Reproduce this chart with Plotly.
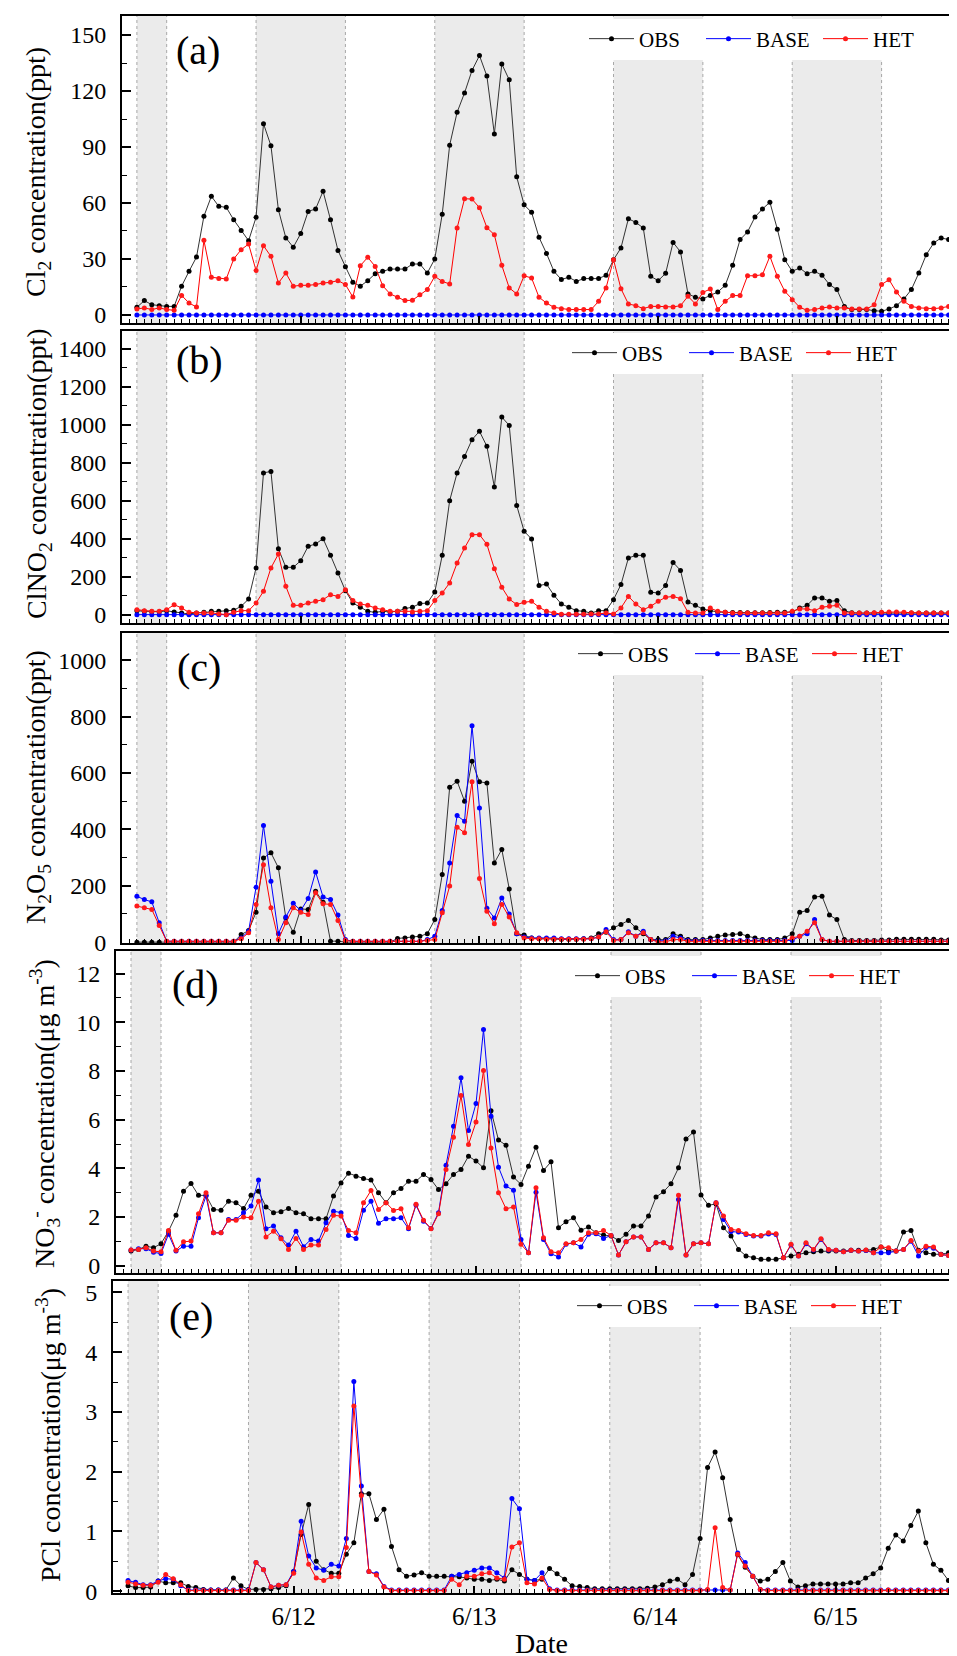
import plotly.graph_objects as go

# Hours since 6/11 00:00 (hourly data from 02:00 on 6/11 to 17:00 on 6/15)
HOURS = list(range(2, 114))
DAY_TICKS = [24, 48, 72, 96]
DAY_LABELS = ["6/12", "6/13", "6/14", "6/15"]
NIGHT_START = [2, 18, 42, 66, 90]
NIGHT_END = [6, 30, 54, 78, 102]

# ---------------- (a) Cl2 (ppt) ----------------
CL2_OBS = [4.1, 7.7, 5.5, 5, 4.6, 4.6, 15.4, 23.4, 31, 52.9,
           63.6, 58.2, 57.7, 51, 45.2, 39.8, 52.3, 102.5, 90.7, 56.4,
           41.3, 36.3, 43.6, 55.5, 56.8, 66.3, 51, 34.6, 25.9, 17.5,
           15.4, 18.4, 22.1, 23.4, 24.6, 24.6, 24.6, 27.3, 27.3, 22.5,
           30, 54, 91, 108.6, 119, 131, 139, 128, 97, 134.5,
           126, 74, 59, 55, 41.6, 33, 23.4, 19, 20.2, 18,
           19.5, 19.5, 19.5, 21.3, 29.6, 35.9, 51.6, 49.6, 46.6, 20.7,
           18.4, 22.3, 38.9, 33.8, 11.3, 9.5, 8.6, 10.5, 12.3, 15.9,
           26.6, 40.4, 44.5, 52.5, 56.8, 60.4, 46, 29.6, 23.4, 25.2,
           22.1, 23.4, 21.3, 16.3, 13.6, 4.6, 2.9, 2.9, 2.9, 2.3,
           2, 3.2, 5, 8.6, 13.6, 22.5, 32.3, 38.6, 41.3, 40.4,
           38.6, 36.3]
CL2_BASE = [0, 0, 0, 0, 0, 0, 0, 0, 0, 0,
            0, 0, 0, 0, 0, 0, 0, 0, 0, 0,
            0, 0, 0, 0, 0, 0, 0, 0, 0, 0,
            0, 0, 0, 0, 0, 0, 0, 0, 0, 0,
            0, 0, 0, 0, 0, 0, 0, 0, 0, 0,
            0, 0, 0, 0, 0, 0, 0, 0, 0, 0,
            0, 0, 0, 0, 0, 0, 0, 0, 0, 0,
            0, 0, 0, 0, 0, 0, 0, 0, 0, 0,
            0, 0, 0, 0, 0, 0, 0, 0, 0, 0,
            0, 0, 0, 0, 0, 0, 0, 0, 0, 0,
            0, 0, 0, 0, 0, 0, 0, 0, 0, 0,
            0, 0]
CL2_HET = [3.2, 3.8, 2.9, 3.8, 2.9, 2.5, 10.5, 6.4, 4.3, 40,
           20.2, 19.6, 19.3, 30, 35, 38, 23.8, 37.1, 31.4, 17.1,
           22.5, 15.4, 15.9, 15.9, 16.3, 17.1, 17.5, 18.4, 16.3, 9.6,
           26.4, 30.9, 26, 15.7, 11.3, 9.5, 7.7, 7.9, 10.9, 13.6,
           20.7, 18, 16.6, 46.6, 62.3, 62.1, 57.5, 46.8, 43, 26.6,
           14.5, 11.3, 21, 19.8, 9.5, 6.4, 4.1, 3.4, 2.9, 2.9,
           2.9, 2.9, 7.3, 14.5, 29.6, 14.1, 5.9, 5, 3.4, 4.6,
           4.6, 4.3, 4.3, 5, 10, 5.9, 12.1, 13.9, 2.9, 7.3,
           10.4, 10.4, 21, 21, 21.6, 31.4, 20.7, 12.7, 8.2, 4.1,
           2.5, 2.9, 3.8, 4.3, 3.8, 3.8, 3.2, 3.2, 3.2, 5.5,
           16.3, 18.9, 12.3, 7.3, 4.6, 3.8, 3.4, 3.4, 3.8, 4.6,
           6.8, 12.1]

# ---------------- (b) ClNO2 (ppt) ----------------
CLNO2_OBS = [20, 18, 15, 15, 20, 14, 9, 3.5, 9, 12,
             17.5, 17.5, 21, 23, 44, 82, 246, 746, 754, 347,
             249, 249, 284, 360, 372, 400, 312, 219, 126, 61,
             39, 17.5, 12, 17.5, 14, 17.5, 32, 39, 58, 61,
             119, 312, 600, 746, 833, 921, 965, 886, 672, 1040,
             996, 575, 439, 398, 153, 161, 102, 56, 39, 21,
             17.5, 8, 21, 21, 79, 158, 298, 312, 312, 118,
             114, 153, 275, 233, 67, 49, 30, 21, 14, 12,
             11, 11, 10, 10, 10, 11, 12, 12, 14, 35,
             49, 88, 88, 70, 74, 21, 10, 8, 8, 8,
             8, 8, 8, 8, 8, 8, 8, 8, 8, 8,
             8, 8]
CLNO2_BASE = [0, 0, 0, 0, 0, 0, 0, 0, 0, 0,
              0, 0, 0, 0, 0, 0, 0, 0, 0, 0,
              0, 0, 0, 0, 0, 0, 0, 0, 0, 0,
              0, 0, 0, 0, 0, 0, 0, 0, 0, 0,
              0, 0, 0, 0, 0, 0, 0, 0, 0, 0,
              0, 0, 0, 0, 0, 0, 0, 0, 0, 0,
              0, 0, 0, 0, 0, 0, 0, 0, 0, 0,
              0, 0, 0, 0, 0, 0, 0, 0, 0, 0,
              0, 0, 0, 0, 0, 0, 0, 0, 0, 0,
              0, 0, 0, 0, 0, 0, 0, 0, 0, 0,
              0, 0, 0, 0, 0, 0, 0, 0, 0, 0,
              0, 0]
CLNO2_HET = [26, 21, 17.5, 17.5, 26, 52.6, 35, 12, 9, 9,
             9, 3.5, 0, 12, 21, 21, 61, 123, 246, 319,
             149, 49, 49, 61, 70, 79, 105, 96, 131, 74,
             56, 49, 35, 26, 17.5, 17.5, 17.5, 14, 17.5, 21,
             74, 114, 167, 272, 351, 421, 421, 370, 242, 144,
             82, 53, 65, 70, 39, 17.5, 9, 2, 2, 2,
             2, 3.5, 3.5, 9, 3.5, 35, 96, 56, 26, 44,
             70, 91, 96, 84, 12, 9, 9, 35, 17.5, 12,
             9, 8, 8, 8, 8, 8, 8, 8, 17.5, 30,
             30, 21, 39, 44, 49, 9, 8, 8, 8, 10,
             12, 14, 14, 12, 10, 9, 8, 8, 8, 8,
             8, 8]

# ---------------- (c) N2O5 (ppt) ----------------
N2O5_OBS = [0, 0, 0, 0, 0, 0, 0, 0, 0, 0,
            0, 0, 0, 0, 27, 41, 106, 299, 317, 264,
            86, 35, 118, 116, 181, 142, 3.5, 3.5, 0, 0,
            0, 0, 0, 0, 0, 13, 15, 18, 21, 30,
            80, 240, 550, 571, 500, 642, 569, 565, 281, 329,
            189, 30, 25, 15, 12, 12, 10, 10, 10, 10,
            12, 15, 30, 35, 51, 63, 77, 51, 30, 9,
            9, 9, 30, 21, 9, 9, 9, 15, 21, 25,
            27, 30, 21, 15, 9, 9, 9, 15, 30, 106,
            112, 160, 163, 96, 80, 9, 6, 6, 6, 6,
            8, 8, 10, 10, 10, 10, 10, 10, 8, 8,
            8, 8]
N2O5_BASE = [163, 151, 143, 69, 3.5, 3, 3, 3, 3, 3,
             3, 3, 3, 3, 15, 39, 195, 414, 216, 30,
             89, 138, 112, 155, 249, 160, 151, 96, 9, 3,
             3, 3, 3, 3, 3, 3, 3, 3, 3, 9,
             21, 112, 281, 449, 429, 768, 476, 120, 86, 157,
             100, 30, 18, 15, 15, 15, 15, 12, 12, 12,
             12, 12, 18, 45, 9, 9, 37, 21, 39, 9,
             5, 5, 21, 15, 6, 6, 6, 6, 6, 6,
             6, 6, 6, 6, 6, 6, 6, 6, 6, 21,
             30, 80, 9, 3, 3, 3, 3, 3, 3, 3,
             3, 3, 3, 3, 3, 3, 3, 3, 3, 3,
             3, 3]
N2O5_HET = [128, 122, 116, 59, 3.5, 3, 3, 3, 3, 3,
            3, 3, 3, 3, 12, 33, 134, 275, 122, 9,
            69, 122, 106, 98, 175, 136, 134, 77, 6, 3,
            3, 3, 3, 3, 3, 3, 3, 3, 3, 6,
            9, 104, 199, 408, 388, 569, 226, 110, 65, 134,
            89, 33, 15, 12, 12, 10, 10, 10, 10, 10,
            10, 12, 18, 37, 6, 9, 33, 21, 33, 9,
            1, 1, 9, 9, 3, 3, 3, 3, 3, 3,
            3, 3, 3, 3, 3, 3, 3, 3, 15, 21,
            39, 69, 9, 3, 3, 3, 3, 3, 3, 3,
            3, 3, 3, 3, 3, 3, 3, 3, 3, 3,
            3, 3]

# ---------------- (d) NO3- (ug m-3) ----------------
NO3_OBS = [0.6, 0.67, 0.8, 0.74, 0.9, 1.42, 2.07, 3.06, 3.38, 2.89,
           2.89, 2.31, 2.28, 2.65, 2.59, 2.35, 2.89, 3.06, 2.41, 2.18,
           2.22, 2.35, 2.18, 2.13, 1.93, 1.93, 1.93, 2.86, 3.4, 3.8,
           3.68, 3.58, 3.52, 3.0, 2.59, 3.0, 3.17, 3.47, 3.47, 3.75,
           3.54, 3.13, 3.37, 3.75, 3.95, 4.5, 4.3, 4.02, 6.37, 5.16,
           4.95, 3.64, 3.34, 4.09, 4.87, 3.91, 4.27, 1.56, 1.81, 1.97,
           1.46, 1.59, 1.35, 1.26, 1.22, 1.04, 1.29, 1.63, 1.63, 2.04,
           2.82, 3.04, 3.37, 4.02, 5.21, 5.49, 2.9, 2.48, 2.54, 1.56,
           1.22, 0.67, 0.4, 0.33, 0.26, 0.26, 0.26, 0.33, 0.4, 0.47,
           0.53, 0.57, 0.6, 0.6, 0.6, 0.6, 0.63, 0.63, 0.63, 0.67,
           0.77, 0.6, 0.6, 1.38, 1.45, 0.63, 0.53, 0.47, 0.47, 0.53,
           0.97, 1.04]
NO3_BASE = [0.64, 0.7, 0.7, 0.55, 0.5, 1.29, 0.6, 0.8, 0.8, 1.97,
            2.86, 1.35, 1.35, 1.9, 1.9, 2.18, 2.45, 3.52, 1.52, 1.63,
            1.15, 0.85, 1.42, 0.78, 1.08, 1.01, 1.76, 2.24, 2.18, 1.24,
            1.12, 2.28, 2.65, 1.74, 1.93, 1.93, 1.97, 1.52, 2.49, 1.83,
            1.53, 2.18, 4.13, 5.73, 7.72, 5.55, 6.66, 9.7, 6.14, 4.05,
            3.27, 3.1, 1.08, 0.53, 3.02, 1.08, 0.49, 0.36, 0.88, 0.94,
            0.77, 1.29, 1.31, 1.12, 1.24, 0.44, 0.98, 1.18, 1.18, 0.67,
            0.94, 0.94, 0.74, 2.72, 0.44, 0.9, 0.94, 0.9, 2.59, 1.9,
            1.4, 1.38, 1.28, 1.22, 1.22, 1.3, 1.28, 0.33, 0.85, 0.4,
            0.9, 0.65, 1.08, 0.65, 0.63, 0.57, 0.63, 0.6, 0.62, 0.53,
            0.53, 0.53, 0.6, 0.67, 1.0, 0.4, 0.75, 0.72, 0.46, 0.42,
            0.6, 0.8]
NO3_HET = [0.64, 0.67, 0.74, 0.6, 0.57, 1.45, 0.63, 0.98, 1.01, 2.13,
           3.0, 1.35, 1.35, 1.87, 1.87, 2.0, 1.97, 2.65, 1.18, 1.42,
           1.11, 0.67, 1.12, 0.67, 0.85, 0.85, 1.49, 2.07, 2.04, 1.45,
           1.35, 2.59, 3.09, 2.31, 2.59, 2.27, 2.34, 1.56, 2.52, 1.87,
           1.52, 2.13, 3.95, 5.28, 6.99, 4.98, 5.9, 8.02, 4.84, 3.0,
           2.34, 2.41, 0.88, 0.53, 3.2, 1.15, 0.57, 0.53, 0.9, 0.94,
           1.08, 1.35, 1.35, 1.45, 1.24, 0.44, 0.98, 1.18, 1.18, 0.67,
           0.94, 0.94, 0.74, 2.89, 0.44, 0.9, 0.94, 0.9, 2.59, 2.04,
           1.49, 1.45, 1.31, 1.24, 1.24, 1.35, 1.31, 0.33, 0.88, 0.4,
           0.94, 0.67, 1.11, 0.67, 0.63, 0.57, 0.63, 0.6, 0.64, 0.53,
           0.77, 0.74, 0.6, 0.67, 1.04, 0.6, 0.8, 0.77, 0.46, 0.42,
           0.6, 0.8]

# ---------------- (e) PCl (ug m-3) ----------------
PCL_OBS = [0.09, 0.06, 0.06, 0.07, 0.17, 0.14, 0.14, 0.14, 0.08, 0.06,
           0.03, 0.02, 0.02, 0.02, 0.22, 0.09, 0.03, 0.03, 0.03, 0.04,
           0.06, 0.09, 0.33, 0.95, 1.45, 0.5, 0.36, 0.3, 0.3, 0.62,
           0.81, 1.63, 1.63, 1.2, 1.37, 0.75, 0.36, 0.25, 0.27, 0.31,
           0.25, 0.25, 0.25, 0.25, 0.24, 0.22, 0.2, 0.2, 0.18, 0.2,
           0.17, 0.36, 0.28, 0.2, 0.18, 0.2, 0.38, 0.29, 0.2, 0.09,
           0.08, 0.06, 0.04, 0.04, 0.04, 0.04, 0.04, 0.04, 0.04, 0.05,
           0.07, 0.11, 0.17, 0.2, 0.11, 0.28, 0.88, 2.07, 2.33, 1.9,
           1.2, 0.61, 0.4, 0.25, 0.17, 0.2, 0.33, 0.48, 0.17, 0.07,
           0.09, 0.12, 0.12, 0.12, 0.12, 0.12, 0.14, 0.14, 0.22, 0.29,
           0.39, 0.72, 0.94, 0.84, 1.1, 1.34, 0.81, 0.45, 0.35, 0.18,
           0.07, 0.07]
PCL_BASE = [0.18, 0.15, 0.11, 0.11, 0.17, 0.21, 0.2, 0.09, 0.02, 0.02,
            0.02, 0.02, 0.02, 0.02, 0.02, 0.02, 0.02, 0.48, 0.36, 0.07,
            0.1, 0.11, 0.33, 1.17, 0.59, 0.39, 0.35, 0.45, 0.42, 0.88,
            3.51, 1.76, 0.33, 0.29, 0.08, 0.02, 0.02, 0.02, 0.02, 0.02,
            0.02, 0.02, 0.02, 0.25, 0.28, 0.31, 0.35, 0.39, 0.39, 0.31,
            0.22, 1.55, 1.38, 0.2, 0.18, 0.31, 0.04, 0.02, 0.02, 0.02,
            0.02, 0.02, 0.02, 0.02, 0.02, 0.02, 0.02, 0.02, 0.02, 0.02,
            0.02, 0.02, 0.02, 0.02, 0.02, 0.02, 0.02, 0.02, 0.02, 0.02,
            0.02, 0.64, 0.48, 0.25, 0.03, 0.02, 0.02, 0.02, 0.02, 0.02,
            0.02, 0.02, 0.02, 0.02, 0.02, 0.02, 0.02, 0.02, 0.02, 0.02,
            0.02, 0.02, 0.02, 0.02, 0.02, 0.02, 0.02, 0.02, 0.02, 0.02,
            0.02, 0.02]
PCL_HET = [0.15, 0.12, 0.1, 0.1, 0.15, 0.28, 0.21, 0.11, 0.01, 0.01,
           0.01, 0.01, 0.01, 0.01, 0.01, 0.01, 0.01, 0.48, 0.36, 0.07,
           0.1, 0.11, 0.3, 0.99, 0.45, 0.22, 0.18, 0.24, 0.24, 0.73,
           3.1, 1.6, 0.33, 0.27, 0.07, 0.01, 0.01, 0.01, 0.01, 0.01,
           0.01, 0.01, 0.01, 0.2, 0.11, 0.25, 0.25, 0.29, 0.31, 0.22,
           0.2, 0.74, 0.81, 0.14, 0.12, 0.22, 0.03, 0.01, 0.01, 0.01,
           0.01, 0.01, 0.01, 0.01, 0.01, 0.01, 0.01, 0.01, 0.01, 0.01,
           0.01, 0.01, 0.01, 0.01, 0.01, 0.01, 0.01, 0.03, 1.06, 0.06,
           0.02, 0.62, 0.42, 0.25, 0.03, 0.01, 0.01, 0.01, 0.01, 0.01,
           0.01, 0.01, 0.01, 0.01, 0.01, 0.01, 0.01, 0.01, 0.01, 0.01,
           0.01, 0.02, 0.01, 0.01, 0.01, 0.01, 0.01, 0.01, 0.01, 0.01,
           0.01, 0.01]

SERIES_NAMES = ["OBS", "BASE", "HET"]

# ---------------- layout helpers ----------------
W, H = 957, 1656
FONT = "Liberation Serif"

PANELS = [
    dict(label="(a)", data=[CL2_OBS, CL2_BASE, CL2_HET],
         ytitle="Cl<sub>2</sub> concentration(ppt)",
         top=8, bottom=315, left=114, yr=[-4.3, 160.2], dtick=30, minor=15,
         title_xy=(29, 164), label_xy=(190, 42), leg_xy=(576, 31)),
    dict(label="(b)", data=[CLNO2_OBS, CLNO2_BASE, CLNO2_HET],
         ytitle="ClNO<sub>2</sub> concentration(ppt)",
         top=323, bottom=615, left=114, yr=[-44, 1493], dtick=200, minor=100,
         title_xy=(31, 466), label_xy=(191, 352), leg_xy=(559, 345)),
    dict(label="(c)", data=[N2O5_OBS, N2O5_BASE, N2O5_HET],
         ytitle="N<sub>2</sub>O<sub>5</sub> concentration(ppt)",
         top=625, bottom=935, left=114, yr=[-3, 1097], dtick=200, minor=100,
         title_xy=(29, 779), label_xy=(191, 659), leg_xy=(565, 646)),
    dict(label="(d)", data=[NO3_OBS, NO3_BASE, NO3_HET],
         ytitle="NO<sub>3</sub><sup>-</sup> concentration(μg m<sup>-3</sup>)",
         top=943, bottom=1265, left=108, yr=[-0.3, 12.93], dtick=2, minor=1,
         title_xy=(36, 1106), label_xy=(187, 977), leg_xy=(562, 968)),
    dict(label="(e)", data=[PCL_OBS, PCL_BASE, PCL_HET],
         ytitle="PCl concentration(μg m<sup>-3</sup>)",
         top=1273, bottom=1585, left=105, yr=[-0.03, 5.19], dtick=1, minor=0.5,
         title_xy=(40, 1427), label_xy=(183, 1308), leg_xy=(564, 1298)),
]

LINE_COLORS = ["#333333", "#0000FF", "#FF0000"]
MARKER_COLORS = ["#000000", "#0000FF", "#FF1A1A"]

fig = go.Figure()
layout = dict(
    width=W, height=H,
    margin=dict(l=0, r=0, t=0, b=0),
    paper_bgcolor="white", plot_bgcolor="rgba(0,0,0,0)",
    font=dict(family=FONT, color="black", size=22),
    showlegend=True,
    template="none",
)
shapes = []
annotations = []

for i, p in enumerate(PANELS):
    k = i + 1
    xname = "x" if k == 1 else f"x{k}"
    yname = "y" if k == 1 else f"y{k}"
    legname = "legend" if k == 1 else f"legend{k}"

    for s in range(3):
        fig.add_trace(go.Scatter(
            x=HOURS, y=p["data"][s], name=SERIES_NAMES[s],
            mode="lines+markers",
            line=dict(color=LINE_COLORS[s], width=1),
            marker=dict(color=MARKER_COLORS[s], size=5, symbol="circle"),
            xaxis=xname, yaxis=yname, legend=legname,
        ))

    ydom = [1 - p["bottom"] / H, 1 - p["top"] / H]
    xdom = [p["left"] / W, 1.0]
    is_last = (k == len(PANELS))

    layout["xaxis" if k == 1 else f"xaxis{k}"] = dict(
        domain=xdom, anchor=yname, range=[0, 113.2],
        tickmode="array", tickvals=DAY_TICKS, ticktext=DAY_LABELS,
        showticklabels=is_last,
        ticks="inside", ticklen=7, tickwidth=1.5, tickcolor="black",
        minor=dict(ticks="inside", ticklen=4, tickwidth=1, tickcolor="black",
                   tickmode="linear", tick0=0, dtick=1),
        showline=True, linewidth=2, linecolor="black", mirror=True,
        showgrid=False, zeroline=False, automargin=False,
        tickfont=dict(family=FONT, size=25, color="black"),
    )
    layout["yaxis" if k == 1 else f"yaxis{k}"] = dict(
        domain=ydom, anchor=xname, range=p["yr"],
        tickmode="linear", tick0=0, dtick=p["dtick"],
        ticks="inside", ticklen=9, tickwidth=1.5, tickcolor="black",
        minor=dict(ticks="inside", ticklen=5, tickwidth=1.2, tickcolor="black",
                   tickmode="linear", tick0=0, dtick=p["minor"]),
        showline=True, linewidth=2, linecolor="black", mirror=False,
        showgrid=False, zeroline=False, automargin=False,
        ticklabelstandoff=9,
        tickfont=dict(family=FONT, size=24, color="black"),
    )

    # night shading + dotted borders
    for ns, ne in zip(NIGHT_START, NIGHT_END):
        shapes.append(dict(type="rect", xref=xname, yref=f"{yname} domain",
                           x0=ns, x1=ne, y0=0, y1=1, fillcolor="#EBEBEB",
                           line=dict(width=0), layer="below"))
        for xv in (ns, ne):
            shapes.append(dict(type="line", xref=xname, yref=f"{yname} domain",
                               x0=xv, x1=xv, y0=0, y1=1, layer="below",
                               line=dict(color="#A8A8A8", width=1, dash="dot")))

    lx, ly = p["leg_xy"]
    layout[legname] = dict(
        orientation="h", x=lx / W, y=1 - ly / H, xanchor="left", yanchor="middle",
        bgcolor="white", borderwidth=0,
        font=dict(family=FONT, size=21, color="black"),
        entrywidth=57, entrywidthmode="pixels", itemwidth=45,
    )

    tx, ty = p["title_xy"]
    annotations.append(dict(text=p["ytitle"], xref="paper", yref="paper",
                            x=tx / W, y=1 - ty / H, xanchor="center", yanchor="middle",
                            textangle=-90, showarrow=False,
                            font=dict(family=FONT, size=28, color="black")))
    lbx, lby = p["label_xy"]
    annotations.append(dict(text=p["label"], xref="paper", yref="paper",
                            x=lbx / W, y=1 - lby / H, xanchor="center", yanchor="middle",
                            showarrow=False,
                            font=dict(family=FONT, size=40, color="black")))

annotations.append(dict(text="Date", xref="paper", yref="paper",
                        x=533 / W, y=1 - 1635 / H, xanchor="center", yanchor="middle",
                        showarrow=False, font=dict(family=FONT, size=28, color="black")))

layout["shapes"] = shapes
layout["annotations"] = annotations
fig.update_layout(**layout)

for name, arr in [("CL2_OBS", CL2_OBS), ("CL2_HET", CL2_HET), ("CLNO2_OBS", CLNO2_OBS),
                  ("CLNO2_HET", CLNO2_HET), ("N2O5_OBS", N2O5_OBS), ("N2O5_BASE", N2O5_BASE),
                  ("N2O5_HET", N2O5_HET), ("NO3_OBS", NO3_OBS), ("NO3_BASE", NO3_BASE),
                  ("NO3_HET", NO3_HET), ("PCL_OBS", PCL_OBS), ("PCL_BASE", PCL_BASE),
                  ("PCL_HET", PCL_HET), ("CL2_BASE", CL2_BASE), ("CLNO2_BASE", CLNO2_BASE)]:
    assert len(arr) == len(HOURS), (name, len(arr))

fig.write_html("out.html")
